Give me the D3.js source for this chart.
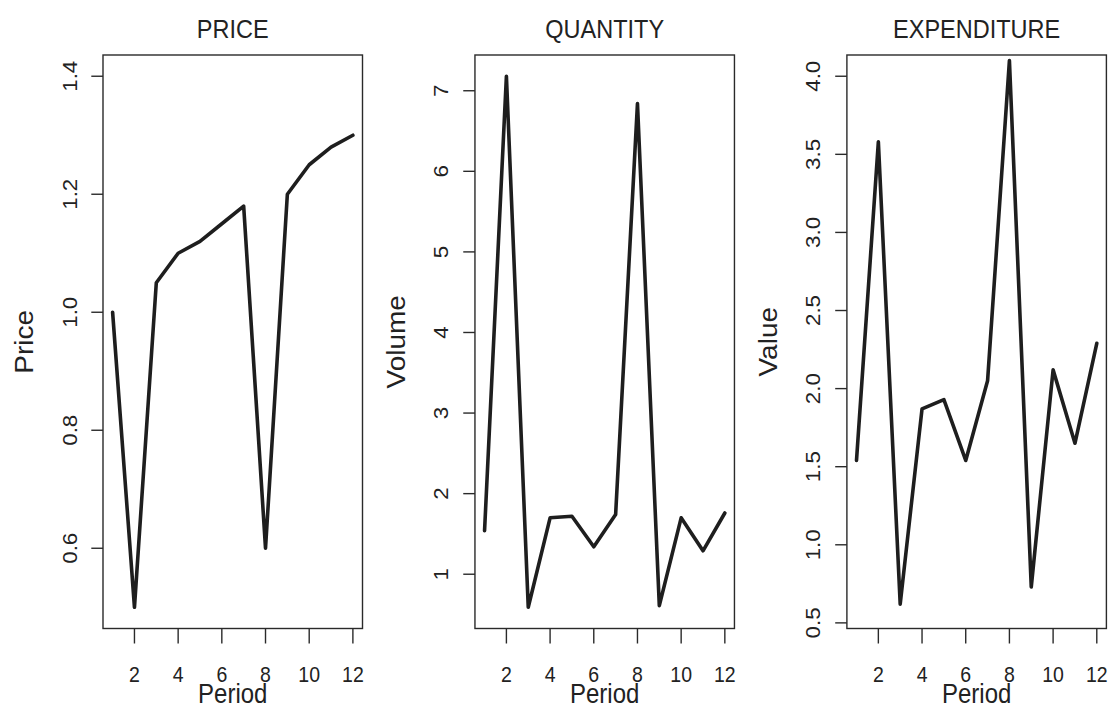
<!DOCTYPE html>
<html>
<head>
<meta charset="utf-8">
<script src="https://cdn.jsdelivr.net/npm/d3@7"></script>
<style>
  html, body { margin: 0; padding: 0; background: #fff; }
  svg { display: block; }
  text { font-family: "Liberation Sans", Arial, Helvetica, sans-serif; fill: #222; }
</style>
</head>
<body>
<svg id="chart" width="1109" height="704"></svg>
<script>
// ---- data ----
const periods = [1, 2, 3, 4, 5, 6, 7, 8, 9, 10, 11, 12];
const price = [1.00, 0.50, 1.05, 1.10, 1.12, 1.15, 1.18, 0.60, 1.20, 1.25, 1.28, 1.30];
const quantity = [1.54, 7.18, 0.59, 1.70, 1.72, 1.34, 1.74, 6.84, 0.61, 1.70, 1.29, 1.76];
const expenditure = [1.54, 3.58, 0.62, 1.87, 1.93, 1.54, 2.05, 4.10, 0.73, 2.12, 1.65, 2.29];

const titles = ["PRICE", "QUANTITY", "EXPENDITURE"];
const yLabels = ["Price", "Volume", "Value"];
const xLabel = "Period";
const xTicks = [2, 4, 6, 8, 10, 12];
const yTicksPrice = [0.6, 0.8, 1.0, 1.2, 1.4];
const yTicksQuantity = [1, 2, 3, 4, 5, 6, 7];
const yTicksExpenditure = [0.5, 1.0, 1.5, 2.0, 2.5, 3.0, 3.5, 4.0];
const yLimPrice = [0.5, 1.4];
const yLimQuantity = [0.59, 7.18];
const yLimExpenditure = [0.6, 4.0];

const panels = [
  { values: price, ticks: yTicksPrice, lim: yLimPrice, fmt: d3.format(".1f") },
  { values: quantity, ticks: yTicksQuantity, lim: yLimQuantity, fmt: d3.format("d") },
  { values: expenditure, ticks: yTicksExpenditure, lim: yLimExpenditure, fmt: d3.format(".1f") }
];

// ---- layout ----
const svg = d3.select("#chart");
const stretch = 1.12;
const plotTop = 55, plotBottom = 628.5;
const plotW = 259.5;
const firstLeft = 103, step = 371.95;
const axisColor = "#2a2a2a";
const pad = (lim) => { const r = lim[1] - lim[0]; return [lim[0] - 0.04 * r, lim[1] + 0.04 * r]; };

panels.forEach((p, i) => {
  const left = firstLeft + i * step;
  const right = left + plotW;
  const x = d3.scaleLinear().domain(pad([1, 12])).range([left, right]);
  const y = d3.scaleLinear().domain(pad(p.lim)).range([plotBottom, plotTop]);
  const g = svg.append("g");

  // box
  g.append("rect")
    .attr("x", left).attr("y", plotTop)
    .attr("width", right - left).attr("height", plotBottom - plotTop)
    .attr("fill", "none").attr("stroke", axisColor).attr("stroke-width", 1.4);

  // x axis ticks
  g.selectAll(".xt").data(xTicks).enter().append("line")
    .attr("x1", d => x(d)).attr("x2", d => x(d))
    .attr("y1", plotBottom).attr("y2", plotBottom + 15)
    .attr("stroke", axisColor).attr("stroke-width", 1.4);
  g.selectAll(".xl").data(xTicks).enter().append("text")
    .attr("transform", d => `translate(${x(d)},${682}) scale(1,${stretch})`)
    .attr("text-anchor", "middle")
    .attr("font-size", 19.5)
    .text(d => d);

  // y axis ticks
  g.selectAll(".yt").data(p.ticks).enter().append("line")
    .attr("x1", left - 11.7).attr("x2", left)
    .attr("y1", d => y(d)).attr("y2", d => y(d))
    .attr("stroke", axisColor).attr("stroke-width", 1.4);
  g.selectAll(".yl").data(p.ticks).enter().append("text")
    .attr("transform", d => `translate(${left - 26.5},${y(d)}) scale(1,${stretch}) rotate(-90)`)
    .attr("text-anchor", "middle")
    .attr("font-size", 20)
    .text(d => p.fmt(d));

  // line
  const line = d3.line().x((d, j) => x(periods[j])).y(d => y(d));
  g.append("path")
    .datum(p.values)
    .attr("d", line)
    .attr("fill", "none")
    .attr("stroke", "#1e1e1e")
    .attr("stroke-width", 3.6)
    .attr("stroke-linejoin", "round")
    .attr("stroke-linecap", "round");

  const cx = (left + right) / 2;
  // title
  g.append("text")
    .attr("transform", `translate(${cx},${37.5}) scale(1,${stretch})`)
    .attr("text-anchor", "middle")
    .attr("font-size", 23.5)
    .text(titles[i]);

  // x label
  g.append("text")
    .attr("transform", `translate(${cx},${703}) scale(1,${stretch})`)
    .attr("text-anchor", "middle")
    .attr("font-size", 24)
    .text(xLabel);

  // y label
  g.append("text")
    .attr("transform", `translate(${left - 70},${(plotTop + plotBottom) / 2}) scale(1,${stretch}) rotate(-90)`)
    .attr("text-anchor", "middle")
    .attr("font-size", 25)
    .text(yLabels[i]);
});
</script>
</body>
</html>
